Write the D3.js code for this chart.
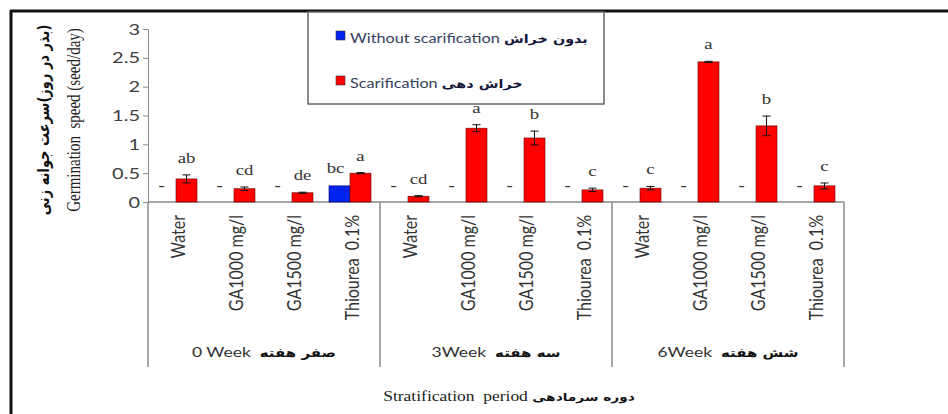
<!DOCTYPE html>
<html>
<head>
<meta charset="utf-8">
<script src="https://cdn.jsdelivr.net/npm/d3@7"></script>
<style>
  body { margin: 0; background: #fff; }
</style>
</head>
<body>
<div id="container"></div>
<script>
// data
const groups = ["0 Week", "3Week", "6Week"];
const groupsFa = ["صفر هفته", "سه هفته", "شش هفته"];
const treatments = ["Water", "GA1000 mg/l", "GA1500 mg/l", "Thiourea  0.1%"];
const withoutVals = [0, 0, 0, 0.28, 0, 0, 0, 0, 0, 0, 0, 0];
const withoutErr = [0, 0, 0, 0.01, 0, 0, 0, 0, 0, 0, 0, 0];
const withoutLabels = ["-", "-", "-", "bc", "-", "-", "-", "-", "-", "-", "-", "-"];
const scarVals = [0.40, 0.23, 0.16, 0.50, 0.10, 1.28, 1.11, 0.21, 0.24, 2.43, 1.32, 0.28];
const scarErr = [0.07, 0.03, 0.01, 0.01, 0.01, 0.06, 0.12, 0.03, 0.03, 0.01, 0.17, 0.05];
const scarLabels = ["ab", "cd", "de", "a", "cd", "a", "b", "c", "c", "a", "b", "c"];
const yTicks = [0, 0.5, 1, 1.5, 2, 2.5, 3];

const width = 948;
const height = 414;
const marginTop = 29;
const marginLeft = 148;
const plotRight = 844;
const baseY = 202;
const SX = 1.25; // the picture is stretched sideways

const sans = "Lato, 'Open Sans', sans-serif";
const serif = "'Liberation Serif', 'DejaVu Serif', serif";
const fa = "'DejaVu Sans', sans-serif";

const svg = d3.create("svg")
    .attr("width", width)
    .attr("height", height);

// frame
svg.append("line").attr("x1", 10).attr("x2", width).attr("y1", 11).attr("y2", 11)
    .attr("stroke", "#111").attr("stroke-width", 3);
svg.append("line").attr("x1", 11).attr("x2", 11).attr("y1", 10).attr("y2", height)
    .attr("stroke", "#111").attr("stroke-width", 3);

const rows = d3.range(12).map(i => ({
    i,
    group: Math.floor(i / 4),
    treat: treatments[i % 4],
    without: withoutVals[i], withoutErr: withoutErr[i], withoutLabel: withoutLabels[i],
    scar: scarVals[i], scarErr: scarErr[i], scarLabel: scarLabels[i]
}));

const x = d3.scaleBand().domain(d3.range(12)).range([marginLeft, plotRight]);
const x1 = d3.scaleBand().domain(["without", "scar"]).range([7, 49]);
const y = d3.scaleLinear().domain([0, 3]).range([baseY, marginTop]);

// y axis
const yAxis = svg.append("g")
    .attr("transform", `translate(${marginLeft},0)`)
    .call(d3.axisLeft(y).tickValues(yTicks).tickSize(5).tickPadding(3).tickFormat(d3.format("")));
yAxis.select(".domain").attr("stroke", "#8a8a8a");
yAxis.selectAll(".tick line").attr("stroke", "#8a8a8a");
yAxis.selectAll(".tick text")
    .attr("font-family", sans)
    .attr("font-size", 16)
    .attr("fill", "#404040")
    .attr("x", -8 / SX)
    .attr("transform", `scale(${SX},1)`);

// category axis lines
svg.append("line").attr("x1", marginLeft).attr("x2", plotRight).attr("y1", baseY).attr("y2", baseY)
    .attr("stroke", "#8a8a8a").attr("stroke-width", 1.5);
const bounds = [0, 4, 8, 12].map(k => k < 12 ? x(k) : x(11) + x.bandwidth());
svg.selectAll(".gline").data(bounds).enter().append("line")
    .attr("x1", d => d).attr("x2", d => d)
    .attr("y1", baseY).attr("y2", 367)
    .attr("stroke", "#8a8a8a").attr("stroke-width", 1.5);

// bars
const bar = svg.append("g").selectAll("g").data(rows).enter().append("g")
    .attr("transform", d => `translate(${x(d.i)},0)`);

bar.filter(d => d.without > 0).append("rect")
    .attr("x", x1("without"))
    .attr("y", d => y(d.without))
    .attr("width", x1.bandwidth())
    .attr("height", d => baseY - y(d.without))
    .attr("fill", "#0022ee")
    .attr("stroke", "#000066").attr("stroke-width", 0.6);

bar.append("rect")
    .attr("x", x1("scar"))
    .attr("y", d => y(d.scar))
    .attr("width", x1.bandwidth())
    .attr("height", d => baseY - y(d.scar))
    .attr("fill", "#ff0000")
    .attr("stroke", "#660000").attr("stroke-width", 0.6);

// error bars
const cx = x1("scar") + x1.bandwidth() / 2;
bar.append("path")
    .attr("d", d => `M${cx},${y(d.scar - d.scarErr)}V${y(d.scar + d.scarErr)}`
        + `M${cx - 4},${y(d.scar + d.scarErr)}H${cx + 4}`
        + `M${cx - 4},${y(d.scar - d.scarErr)}H${cx + 4}`)
    .attr("stroke", "#111").attr("stroke-width", 1).attr("fill", "none");

// letters
const letter = (sel, key, errKey, labKey, off) => sel.append("text")
    .attr("transform", d => `translate(${off},${y(d[key] + d[errKey]) - 12}) scale(${SX},1)`)
    .attr("text-anchor", "middle")
    .attr("font-family", serif)
    .attr("font-size", 15)
    .attr("font-weight", d => d[labKey] === "-" ? "bold" : "normal")
    .attr("fill", "#333")
    .text(d => d[labKey]);
letter(bar, "without", "withoutErr", "withoutLabel", x1("without") + x1.bandwidth() / 2 - 4);
letter(bar, "scar", "scarErr", "scarLabel", cx);

// treatment labels
svg.append("g").selectAll("text").data(rows).enter().append("text")
    .attr("transform", d => `translate(${x(d.i) + x.bandwidth() / 2 + 1},215) scale(${SX},1) rotate(-90)`)
    .attr("text-anchor", "end")
    .attr("dy", "0.35em")
    .attr("font-family", sans)
    .attr("font-size", 16)
    .attr("fill", "#333")
    .style("white-space", "pre")
    .text(d => d.treat);

// group labels
const gl = svg.append("g").selectAll("text").data(groups).enter().append("text")
    .attr("transform", (d, i) => `translate(${(bounds[i] + bounds[i + 1]) / 2},357) scale(${SX},1)`)
    .attr("text-anchor", "middle")
    .attr("fill", "#333")
    .style("white-space", "pre");
gl.append("tspan").attr("font-family", sans).attr("font-size", 14).text(d => d + "  ");
gl.append("tspan").attr("font-family", fa).attr("font-weight", "bold").attr("font-size", 12)
    .attr("fill", "#111").text((d, i) => groupsFa[i]);

// x title
const xt = svg.append("text")
    .attr("transform", `translate(509,401) scale(${SX},1)`)
    .attr("text-anchor", "middle")
    .style("white-space", "pre");
xt.append("tspan").attr("font-family", serif).attr("font-size", 14).attr("fill", "#222")
    .text("Stratification  period ");
xt.append("tspan").attr("font-family", fa).attr("font-weight", "bold").attr("font-size", 11)
    .attr("fill", "#111").text("دوره سرمادهی");

// y titles
svg.append("text")
    .attr("transform", `translate(43,120) scale(${SX},1) rotate(-90)`)
    .attr("text-anchor", "middle")
    .attr("dy", "0.35em")
    .attr("direction", "rtl")
    .attr("font-family", fa)
    .attr("font-weight", "bold")
    .attr("font-size", 13)
    .attr("fill", "#111")
    .text("(بذر در روز)سرعت جوانه زنی");
svg.append("text")
    .attr("transform", `translate(73,120) scale(${SX},1) rotate(-90)`)
    .attr("text-anchor", "middle")
    .attr("dy", "0.35em")
    .attr("font-family", serif)
    .attr("font-size", 15)
    .attr("fill", "#222")
    .style("white-space", "pre")
    .text("Germination  speed (seed/day)");

// legend
const legend = svg.append("g");
legend.append("rect")
    .attr("x", 308).attr("y", 12).attr("width", 296).attr("height", 92)
    .attr("fill", "#fff").attr("stroke", "#666").attr("stroke-width", 1.5);
const legendItems = [
    { en: "Without scarification", fa: "بدون خراش", color: "#0022ee" },
    { en: "Scarification", fa: "خراش دهی", color: "#ff0000" }
];
const li = legend.selectAll(".li").data(legendItems).enter().append("g")
    .attr("transform", (d, i) => `translate(336,${33 + i * 45})`);
li.append("rect").attr("x", 0).attr("y", -2).attr("width", 9).attr("height", 9)
    .attr("fill", d => d.color).attr("stroke", "#333").attr("stroke-width", 0.6);
const lt = li.append("text")
    .attr("transform", `translate(14,10) scale(${SX},1)`)
    .style("white-space", "pre");
lt.append("tspan").attr("font-family", sans).attr("font-size", 13).attr("fill", "#34405e")
    .text(d => d.en + " ");
lt.append("tspan").attr("font-family", fa).attr("font-weight", "bold").attr("font-size", 11.5)
    .attr("fill", "#14163a").text(d => d.fa);

d3.select("#container").append(() => svg.node());
</script>
</body>
</html>
